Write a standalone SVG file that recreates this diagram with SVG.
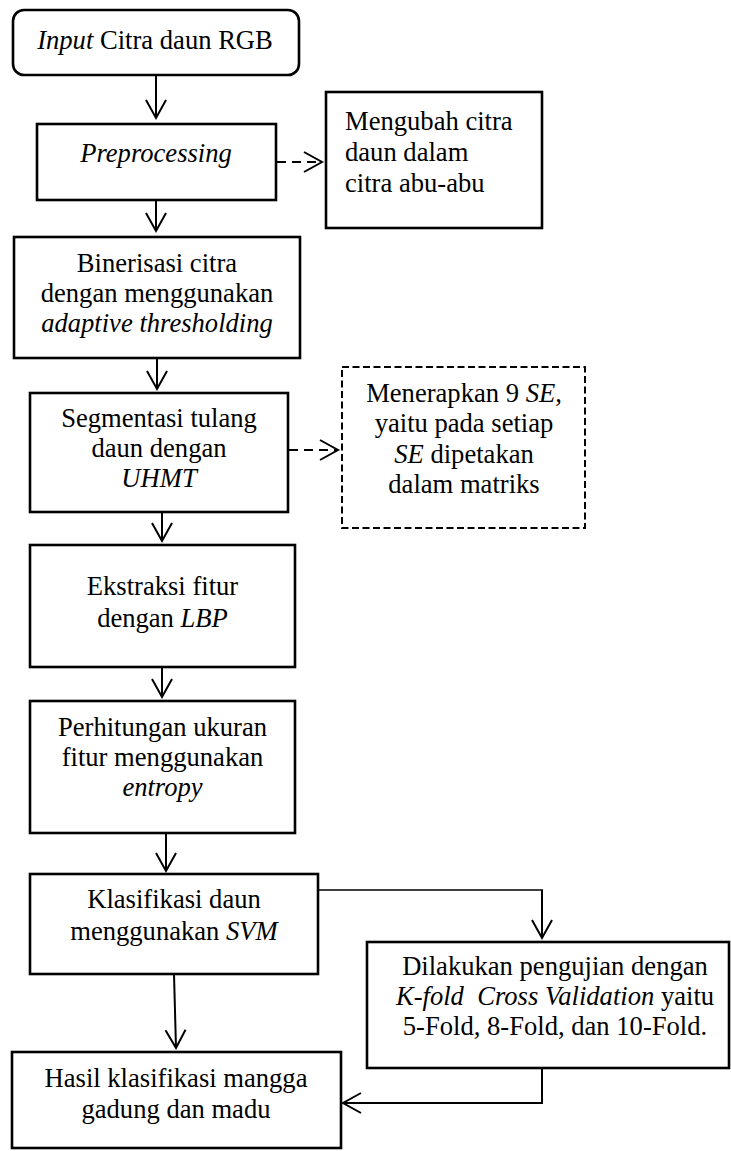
<svg xmlns="http://www.w3.org/2000/svg" width="731" height="1151" viewBox="0 0 731 1151">
<style>
.box{fill:#fff;stroke:#000;stroke-width:2.6}
.dbox{fill:#fff;stroke:#000;stroke-width:2;stroke-dasharray:7 3.5}
.t{font-family:"Liberation Serif","Times New Roman",serif;font-size:26.6px;fill:#000}
.c{text-anchor:middle}
.i{font-style:italic}
.ln{stroke:#000;stroke-width:2;fill:none}
.dl{stroke:#000;stroke-width:2;fill:none;stroke-dasharray:9 6}
</style>
<defs>
<marker id="arr" viewBox="-20 -12 22 24" refX="0" refY="0" markerWidth="22" markerHeight="24" markerUnits="userSpaceOnUse" orient="auto" overflow="visible">
<path d="M-18,-10 L0,0 L-18,10" fill="none" stroke="#000" stroke-width="2" stroke-dasharray="none"/>
</marker>
</defs>
<g id="connectors">
<line class="ln" x1="156" y1="75" x2="156" y2="118" marker-end="url(#arr)"/>
<line class="ln" x1="156" y1="200" x2="156" y2="231" marker-end="url(#arr)"/>
<line class="ln" x1="157" y1="358" x2="157" y2="389" marker-end="url(#arr)"/>
<line class="ln" x1="162" y1="512" x2="162" y2="541" marker-end="url(#arr)"/>
<line class="ln" x1="162" y1="667" x2="162" y2="697" marker-end="url(#arr)"/>
<line class="ln" x1="166" y1="833" x2="166" y2="871" marker-end="url(#arr)"/>
<line class="ln" x1="174" y1="974" x2="176" y2="1048" marker-end="url(#arr)"/>
<line x1="318" y1="890" x2="543" y2="890" stroke="#000" stroke-width="1.3"/>
<line class="ln" x1="542" y1="890" x2="542" y2="938" marker-end="url(#arr)"/>
<polyline class="ln" points="542,1068 542,1103 343,1103" marker-end="url(#arr)"/>
<line class="dl" x1="277" y1="162" x2="322" y2="162" marker-end="url(#arr)"/>
<line class="dl" x1="289" y1="450" x2="338" y2="450" marker-end="url(#arr)"/>
</g>
<g id="n1">
<rect class="box" x="13" y="10" width="286" height="65" rx="11"/>
<text class="t c" x="155" y="49"><tspan class="i">Input</tspan> Citra daun RGB</text>
</g>
<g id="n2">
<rect class="box" x="37" y="124" width="239" height="76"/>
<text class="t c i" x="156" y="162">Preprocessing</text>
</g>
<g id="n3">
<rect class="box" x="326" y="92" width="216" height="136"/>
<text class="t" x="345" y="130">Mengubah citra</text>
<text class="t" x="345" y="161">daun dalam</text>
<text class="t" x="345" y="192">citra abu-abu</text>
</g>
<g id="n4">
<rect class="box" x="14" y="237" width="286" height="121"/>
<text class="t c" x="157" y="272">Binerisasi citra</text>
<text class="t c" x="157" y="302">dengan menggunakan</text>
<text class="t c i" x="157" y="332">adaptive thresholding</text>
</g>
<g id="n5">
<rect class="box" x="30" y="393" width="258" height="119"/>
<text class="t c" x="159" y="427">Segmentasi tulang</text>
<text class="t c" x="159" y="457">daun dengan</text>
<text class="t c i" x="159" y="487">UHMT</text>
</g>
<g id="n6">
<rect class="dbox" x="342" y="367" width="243" height="161"/>
<text class="t c" x="464" y="402">Menerapkan 9 <tspan class="i">SE</tspan>,</text>
<text class="t c" x="464" y="432">yaitu pada setiap</text>
<text class="t c" x="464" y="463"><tspan class="i">SE</tspan> dipetakan</text>
<text class="t c" x="464" y="493">dalam matriks</text>
</g>
<g id="n7">
<rect class="box" x="30" y="545" width="265" height="122"/>
<text class="t c" x="162.5" y="595">Ekstraksi fitur</text>
<text class="t c" x="162.5" y="627">dengan <tspan class="i">LBP</tspan></text>
</g>
<g id="n8">
<rect class="box" x="30" y="701" width="265" height="132"/>
<text class="t c" x="162.5" y="736">Perhitungan ukuran</text>
<text class="t c" x="162.5" y="766">fitur menggunakan</text>
<text class="t c i" x="162.5" y="796">entropy</text>
</g>
<g id="n9">
<rect class="box" x="30" y="874" width="288" height="100"/>
<text class="t c" x="174" y="908">Klasifikasi daun</text>
<text class="t c" x="174" y="940">menggunakan <tspan class="i">SVM</tspan></text>
</g>
<g id="n10">
<rect class="box" x="367" y="942" width="362" height="126"/>
<text class="t c" x="555" y="975">Dilakukan pengujian dengan</text>
<text class="t c" x="555" y="1005" xml:space="preserve"><tspan class="i">K-fold  Cross Validation</tspan> yaitu</text>
<text class="t c" x="555" y="1035">5-Fold, 8-Fold, dan 10-Fold.</text>
</g>
<g id="n11">
<rect class="box" x="12" y="1052" width="329" height="96"/>
<text class="t c" x="176" y="1087">Hasil klasifikasi mangga</text>
<text class="t c" x="176" y="1118">gadung dan madu</text>
</g>
</svg>
